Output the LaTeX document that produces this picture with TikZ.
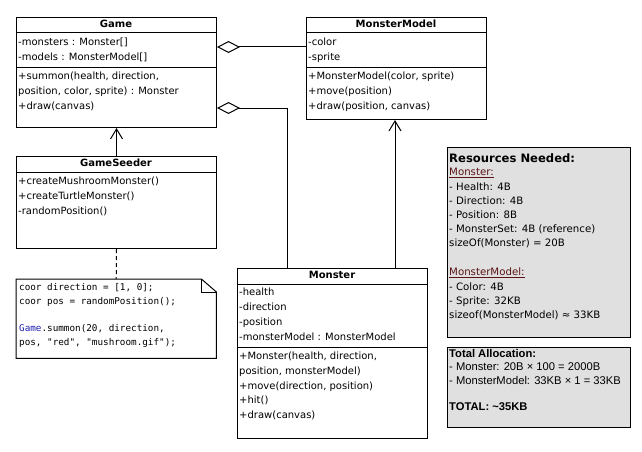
\documentclass[tikz,border=0pt]{standalone}
\usepackage{fontspec}
\usetikzlibrary{arrows.meta}
\newfontfamily\umlfamily{DejaVu Sans}
\newfontfamily\arialfamily{Liberation Sans}
\newfontfamily\monofamily{DejaVu Sans Mono}
\definecolor{resbg}{HTML}{E0E0E0}
\definecolor{uline}{HTML}{5A1414}
\definecolor{kwblue}{HTML}{1F1FB0}
\newcommand\umlf{\umlfamily\fontsize{10}{11}\selectfont}
\newcommand\resf{\umlfamily\fontsize{10.2}{11}\selectfont}
\newcommand\arf{\arialfamily\fontsize{11.2}{12}\selectfont}
\newcommand\monof{\monofamily\fontsize{9.3}{11}\selectfont}
\tikzset{
  umlbox/.style={draw, line width=1pt, inner sep=0pt, anchor=north west},
  resbox/.style={draw, line width=1pt, fill=resbg, inner sep=0pt, anchor=north west},
  row/.style={anchor=west, inner sep=0pt, font=\umlf, text height=7.5pt, text depth=2pt},
  ttl/.style={anchor=center, inner sep=0pt, font=\umlf\bfseries, text height=7.5pt, text depth=2pt},
  rrow/.style={anchor=west, inner sep=0pt, font=\resf, text height=7pt, text depth=2pt},
  arow/.style={anchor=west, inner sep=0pt, font=\arf, text height=7.5pt, text depth=2pt},
  mrow/.style={anchor=west, inner sep=0pt, font=\monof, text height=7pt, text depth=2pt},
  conn/.style={line width=1pt},
  inherit/.style={conn, -{Straight Barb[length=10pt,width=12pt,line width=1pt]}},
  aggr/.style={conn, {Diamond[open,length=23pt,width=12pt,line width=1pt]}-},
}
\begin{document}
\begin{tikzpicture}[x=1pt,y=-1pt]
\useasboundingbox (0,0) rectangle (642,452);
\fill[white] (0,0) rectangle (642,452);

% ---- Game
\node[umlbox, minimum width=200pt, minimum height=110pt] (game) at (16,17) {};
\draw[conn] (16,33) -- (216,33);
\draw[conn] (16,67) -- (216,67);
\node[ttl] (gameT) at (116,25) {Game};
\node[row] (g1) at (18,43) {-monsters : Monster[]};
\node[row] (g2) at (18,58) {-models : MonsterModel[]};
\node[row] (g3) at (18,77) {+summon(health, direction,};
\node[row] (g4) at (18,92) {position, color, sprite) : Monster};
\node[row] (g5) at (18,107) {+draw(canvas)};

% ---- MonsterModel
\node[umlbox, minimum width=180pt, minimum height=102pt] (mm) at (306,17) {};
\draw[conn] (306,33) -- (486,33);
\draw[conn] (306,67) -- (486,67);
\node[ttl] (mmT) at (396,25) {MonsterModel};
\node[row] (mm1) at (308,43) {-color};
\node[row] (mm2) at (308,58) {-sprite};
\node[row] (mm3) at (308,77) {+MonsterModel(color, sprite)};
\node[row] (mm4) at (308,92) {+move(position)};
\node[row] (mm5) at (308,107) {+draw(position, canvas)};

% ---- GameSeeder
\node[umlbox, minimum width=200pt, minimum height=92pt] (seeder) at (16,156) {};
\draw[conn] (16,172) -- (216,172);
\node[ttl] (seederT) at (116,164) {GameSeeder};
\node[row] (s1) at (18,182) {+createMushroomMonster()};
\node[row] (s2) at (18,197) {+createTurtleMonster()};
\node[row] (s3) at (18,212) {-randomPosition()};

% ---- Note
\node[inner sep=0pt, minimum width=200pt, minimum height=79pt, anchor=north west] (note) at (16,279) {};
\draw[conn] (note.south west) -- (note.north west) -- ([xshift=-15pt]note.north east)
  -- ([yshift=-13pt]note.north east) -- (note.south east) -- cycle;
\draw[conn] ([xshift=-15pt]note.north east) -- ++(0,13) -- ([yshift=-13pt]note.north east);
\node[mrow] (n1) at (19,288) {coor direction = [1, 0];};
\node[mrow] (n2) at (19,302) {coor pos = randomPosition();};
\node[mrow] (n3) at (19,329) {\textcolor{kwblue}{Game}.summon(20, direction,};
\node[mrow] (n4) at (19,343) {pos, "red", "mushroom.gif");};

% ---- Monster
\node[umlbox, minimum width=190pt, minimum height=170pt] (monster) at (237,268) {};
\draw[conn] (237,284) -- (427,284);
\draw[conn] (237,347) -- (427,347);
\node[ttl] (monsterT) at (332,276) {Monster};
\node[row] (m1) at (239,293) {-health};
\node[row] (m2) at (239,308) {-direction};
\node[row] (m3) at (239,323) {-position};
\node[row] (m4) at (239,338) {-monsterModel : MonsterModel};
\node[row] (m5) at (239,357) {+Monster(health, direction,};
\node[row] (m6) at (239,372) {position, monsterModel)};
\node[row] (m7) at (239,387) {+move(direction, position)};
\node[row] (m8) at (239,401) {+hit()};
\node[row] (m9) at (239,416) {+draw(canvas)};

% ---- Resources
\node[resbox, minimum width=183pt, minimum height=190pt] (res) at (447,147) {};
\node[anchor=west, inner sep=0pt, font=\umlfamily\fontsize{11.6}{13}\selectfont\bfseries] (rT) at (449,158) {Resources Needed:};
\node[rrow] (r1) at (449,173) {\textcolor{uline}{\underline{Monster:}}};
\node[rrow] (r2) at (449,188) {- Health: 4B};
\node[rrow] (r3) at (449,202) {- Direction: 4B};
\node[rrow] (r4) at (449,216) {- Position: 8B};
\node[rrow] (r5) at (449,230) {- MonsterSet: 4B (reference)};
\node[rrow] (r6) at (449,244) {sizeOf(Monster) = 20B};
\node[rrow] (r7) at (449,273) {\textcolor{uline}{\underline{MonsterModel:}}};
\node[rrow] (r8) at (449,288) {- Color: 4B};
\node[rrow] (r9) at (449,302) {- Sprite: 32KB};
\node[rrow] (r10) at (449,316) {sizeof(MonsterModel) ≈ 33KB};

% ---- Total
\node[resbox, minimum width=183pt, minimum height=80pt] (tot) at (447,347) {};
\node[arow, font=\arf\bfseries] (tT) at (449,355) {Total Allocation:};
\node[arow] (t1) at (449,368) {- Monster: 20B × 100 = 2000B};
\node[arow] (t2) at (449,382) {- MonsterModel: 33KB × 1 = 33KB};
\node[arow, font=\arf\bfseries] (t3) at (449,408) {TOTAL: \textasciitilde 35KB};

% ---- Connectors
\path (game.north east) ++(0,30) coordinate (ga);
\path (game.north east) ++(0,91) coordinate (gb);
\path (monster.north west) ++(50,0) coordinate (mtop);
\path (mm.south west) ++(89,0) coordinate (mmA);
\draw[aggr] (ga) -- (ga -| mm.west);
\draw[aggr] (gb) -| (mtop);
\draw[inherit] (seeder.north) -- (game.south);
\draw[inherit] (mmA |- monster.north) -- (mmA);
\draw[conn, dash pattern=on 4pt off 3pt] (seeder.south) -- (note.north);
\end{tikzpicture}
\end{document}
